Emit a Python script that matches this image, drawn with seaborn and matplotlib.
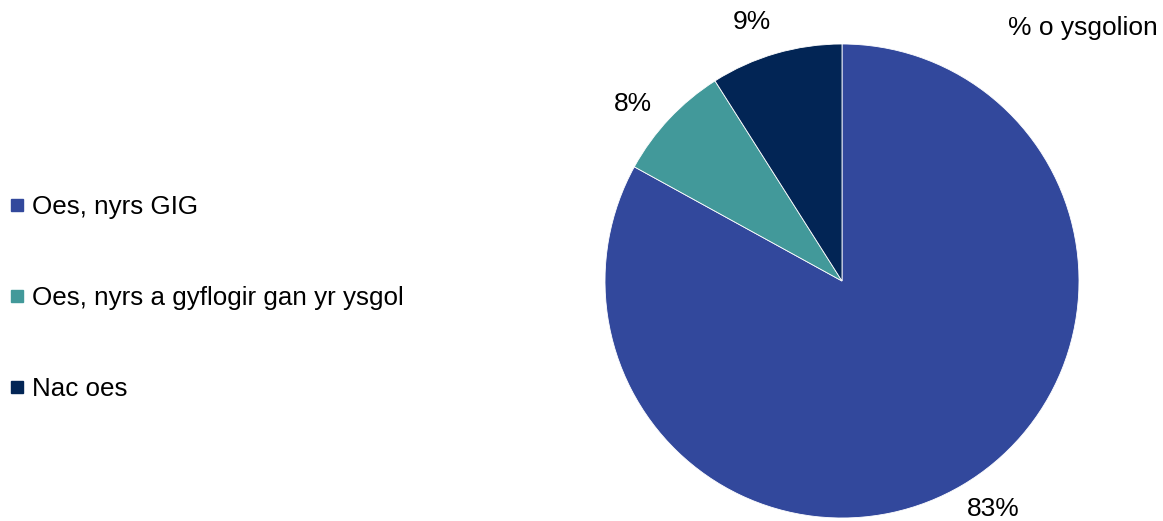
import matplotlib
matplotlib.use("Agg")
import matplotlib.pyplot as plt
import seaborn as sns
import numpy as np
from matplotlib.lines import Line2D

categories = ["Oes, nyrs GIG", "Oes, nyrs a gyflogir gan yr ysgol", "Nac oes"]
values = [83, 8, 9]
pct_labels = ["83%", "8%", "9%"]
title = "% o ysgolion"

sns.set_theme(style="white")
plt.rcParams['font.family'] = ['Liberation Sans', 'DejaVu Sans']
colors = sns.color_palette(["#32489C", "#42999A", "#022555"])

fig = plt.figure(figsize=(11.63, 5.21), dpi=100)
ax = fig.add_axes([(842 - 237) / 1163, (240 - 237) / 521, 474 / 1163, 474 / 521])
wedges, texts = ax.pie(values, labels=pct_labels, colors=colors, startangle=90,
                       counterclock=False, radius=1, labeldistance=1.15,
                       wedgeprops=dict(edgecolor="white", linewidth=0.6),
                       textprops=dict(fontsize=19, color="black"))
label_r = 1.155
angle_shift = 3.0
for w, t in zip(wedges, texts):
    mid = np.deg2rad((w.theta1 + w.theta2) / 2 + angle_shift)
    t.set_position((label_r * np.cos(mid), label_r * np.sin(mid)))
    t.set_ha("center")
    t.set_va("center")
ax.set_xlim(-1, 1)
ax.set_ylim(-1, 1)
ax.set_aspect("equal")
ax.axis("off")

handles = [Line2D([0], [0], marker="s", linestyle="none", markersize=9,
                  markerfacecolor=c, markeredgecolor=c) for c in colors]
leg = fig.legend(handles, categories, loc="center left", bbox_to_anchor=(9 / 1163, 0.428),
                 frameon=False, fontsize=18.7, labelspacing=2.58, handlelength=0.6,
                 handletextpad=0.28, borderaxespad=0, borderpad=0)
for t in leg.get_texts():
    t.set_color("black")

fig.text(1158 / 1163, 1 - 28 / 521, title, ha="right", va="center", fontsize=19,
         color="black")

fig.savefig("out.png", dpi=100)
